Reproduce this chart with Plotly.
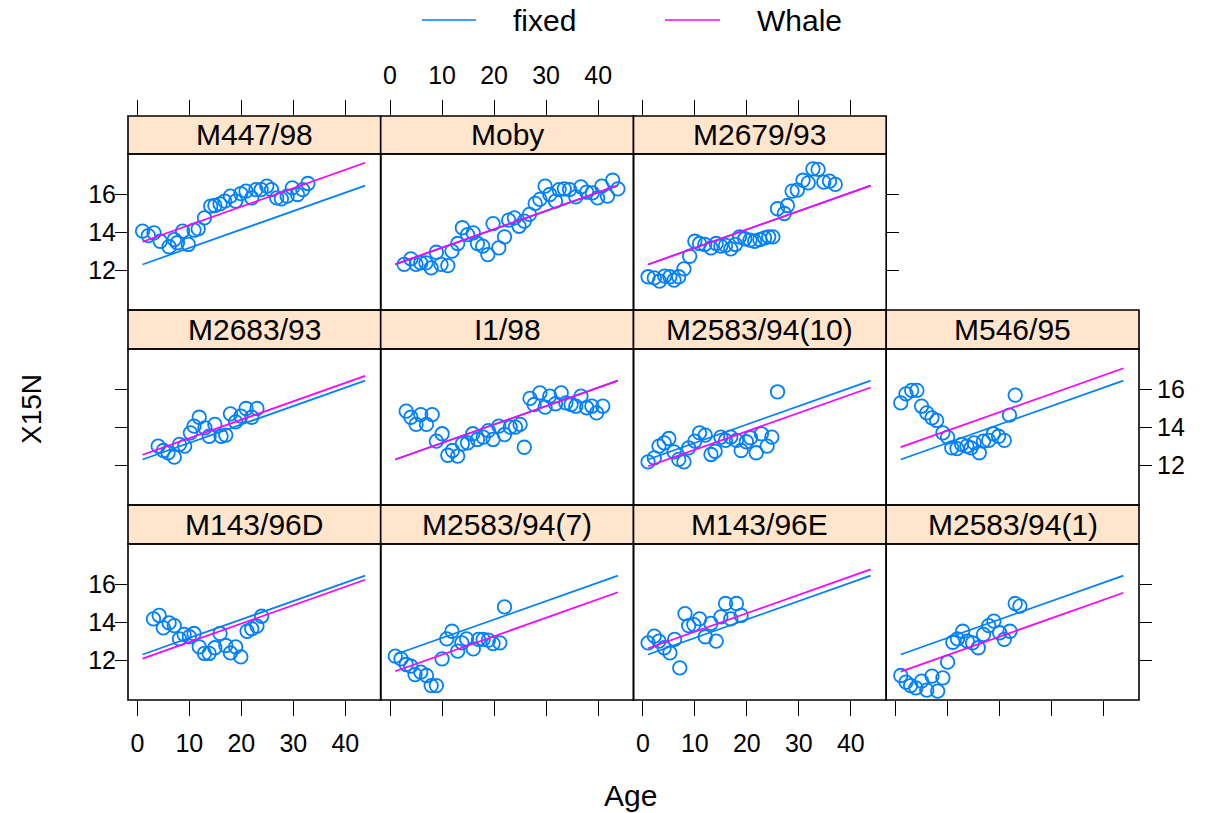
import plotly.graph_objects as go

W, H = 1206, 813
FONT = "Liberation Sans, Arial, Helvetica, sans-serif"
BLUE = "#0080ff"
MAGENTA = "#ff00ff"
STRIP = "#ffe5cc"

# ---- data: nitrogen isotope ratio (X15N) by tooth-layer age, per whale ----
whale_names = ["M447/98", "Moby", "M2679/93",
               "M2683/93", "I1/98", "M2583/94(10)", "M546/95",
               "M143/96D", "M2583/94(7)", "M143/96E", "M2583/94(1)"]

age_m447_98 = [1.0, 2.1, 3.2, 4.4, 6.1, 7.1, 7.7, 8.7, 9.8, 10.9, 11.7, 12.9, 14.1, 14.9, 15.9, 16.8,
               17.9, 18.9, 19.9, 20.9, 22.0, 22.8, 23.8, 24.9, 25.8, 26.8, 27.7, 28.8, 29.8, 30.8, 31.8, 32.8]
n15_m447_98 = [14.07, 13.84, 13.98, 13.54, 13.25, 13.63, 13.46, 14.07, 13.37, 14.12, 14.19, 14.77, 15.39,
               15.42, 15.51, 15.65, 15.91, 15.65, 16.05, 16.18, 15.82, 16.26, 16.26, 16.44, 16.26, 15.82,
               15.77, 15.91, 16.35, 16.0, 16.26, 16.58]

age_moby = [2.7, 4.0, 5.0, 5.9, 6.9, 7.9, 8.9, 9.8, 11.1, 11.9, 13.0, 13.9, 14.9, 16.0, 16.8, 17.8, 18.8,
            19.8, 20.9, 22.0, 22.8, 23.9, 24.8, 25.8, 26.8, 27.9, 28.8, 29.8, 30.7, 31.8, 32.5, 33.5, 34.5,
            35.7, 36.7, 37.8, 38.9, 39.9, 40.7, 41.8, 42.8, 43.8]
n15_moby = [12.32, 12.61, 12.32, 12.40, 12.40, 12.14, 12.96, 12.32, 12.26, 13.02, 13.42, 14.25, 13.89,
            13.98, 13.42, 13.28, 12.84, 14.47, 13.19, 13.77, 14.65, 14.77, 14.33, 14.60, 14.95, 15.53,
            15.74, 16.44, 16.0, 15.65, 16.26, 16.30, 16.26, 15.88, 16.40, 16.12, 16.09, 15.82, 16.44,
            15.91, 16.75, 16.30]

age_m2679_93 = [1.0, 2.2, 3.2, 4.2, 5.2, 6.0, 6.9, 7.9, 9.0, 10.0, 10.9, 11.9, 13.1, 14.1, 15.0, 15.9,
                16.9, 17.8, 18.6, 19.6, 20.6, 21.5, 22.5, 23.4, 24.2, 25.0, 25.9, 27.2, 27.8, 28.7, 29.7,
                30.8, 31.8, 32.7, 33.7, 34.8, 35.9, 37.0]
n15_m2679_93 = [11.67, 11.61, 11.44, 11.70, 11.67, 11.49, 11.67, 12.09, 12.75, 13.54, 13.42, 13.37, 13.19,
                13.42, 13.28, 13.32, 13.14, 13.37, 13.77, 13.67, 13.60, 13.54, 13.63, 13.72, 13.77, 13.77,
                15.25, 15.0, 15.42, 16.18, 16.23, 16.75, 16.61, 17.35, 17.32, 16.65, 16.70, 16.53]

age_m2683_93 = [4.0, 5.0, 5.9, 7.1, 8.1, 9.1, 10.2, 10.9, 11.9, 13.0, 13.8, 14.9, 16.1, 17.0, 17.9, 18.9,
                19.9, 20.9, 22.0, 23.0]
n15_m2683_93 = [13.02, 12.79, 12.67, 12.44, 13.11, 13.02, 13.72, 14.07, 14.54, 13.98, 13.54, 14.16, 13.54,
                13.60, 14.72, 14.30, 14.60, 15.0, 14.54, 15.0]

age_i1_98 = [3.1, 4.0, 5.0, 5.9, 7.0, 8.1, 8.9, 10.0, 11.1, 12.0, 13.0, 13.9, 14.9, 15.9, 16.8, 17.9, 18.9,
             19.8, 20.9, 22.0, 23.1, 24.1, 25.0, 25.8, 26.9, 27.7, 28.8, 29.8, 30.7, 31.8, 32.9, 33.8, 34.8,
             35.7, 36.7, 37.8, 38.8, 39.7, 40.9]
n15_i1_98 = [14.86, 14.54, 14.16, 14.68, 14.16, 14.68, 13.28, 13.67, 12.54, 12.79, 12.49, 13.14, 13.19,
             13.67, 13.37, 13.49, 13.84, 13.37, 14.07, 13.63, 14.02, 14.02, 14.16, 12.96, 15.53, 15.21,
             15.82, 15.07, 15.65, 15.25, 15.82, 15.30, 15.21, 15.12, 15.65, 15.04, 15.12, 14.77, 15.12]

age_m2583_94_10 = [1.0, 2.2, 3.1, 4.1, 5.0, 6.0, 6.9, 7.9, 8.8, 10.0, 10.9, 12.0, 13.1, 13.9, 15.0, 15.9,
                   16.9, 18.0, 18.9, 19.9, 20.7, 21.8, 22.8, 23.9, 24.8, 25.9]
n15_m2583_94_10 = [12.19, 12.40, 13.02, 13.19, 13.42, 12.72, 12.32, 12.19, 12.93, 13.28, 13.72, 13.60,
                   12.58, 12.75, 13.49, 13.32, 13.49, 13.32, 12.79, 13.25, 13.46, 12.67, 13.67, 13.02,
                   13.49, 15.88]

age_m546_95 = [1.0, 2.0, 3.1, 4.1, 5.0, 6.0, 7.0, 7.9, 9.1, 10.0, 10.8, 11.8, 12.7, 13.7, 14.5, 15.1, 16.1,
               16.9, 17.9, 18.8, 19.8, 20.9, 21.9, 23.0]
n15_m546_95 = [15.30, 15.77, 15.95, 15.95, 15.12, 14.77, 14.51, 14.37, 13.72, 13.49, 12.93, 12.89, 13.11,
               13.02, 12.93, 13.19, 12.67, 13.28, 13.32, 13.67, 13.54, 13.32, 14.65, 15.70]

age_m143_96d = [3.1, 4.2, 5.0, 6.1, 7.1, 8.1, 9.0, 10.0, 10.9, 11.9, 12.9, 13.8, 14.9, 15.9, 17.0, 17.9,
                18.9, 19.9, 21.1, 22.0, 23.0, 23.9]
n15_m143_96d = [14.19, 14.37, 13.72, 13.98, 13.84, 13.14, 13.37, 13.25, 13.42, 12.72, 12.37, 12.37, 12.67,
                13.42, 12.79, 12.40, 12.72, 12.19, 13.54, 13.67, 13.81, 14.33]

age_m2583_94_7 = [1.0, 2.1, 3.1, 4.0, 4.8, 5.9, 7.0, 7.9, 8.9, 10.0, 10.9, 11.9, 13.0, 13.8, 14.7, 16.0,
                  17.0, 17.9, 18.9, 19.8, 21.1, 22.0]
n15_m2583_94_7 = [12.23, 12.09, 11.79, 11.70, 11.26, 11.39, 11.21, 10.68, 10.68, 12.09, 13.14, 13.54, 12.49,
                  12.93, 13.14, 12.61, 13.11, 13.11, 13.07, 12.89, 12.93, 14.82]

age_m143_96e = [1.0, 2.2, 3.1, 4.1, 5.2, 6.1, 7.1, 8.1, 8.8, 9.8, 10.9, 12.0, 13.1, 14.1, 15.0, 15.9, 16.9,
                18.0, 18.9]
n15_m143_96e = [12.93, 13.28, 13.02, 12.67, 12.40, 13.11, 11.61, 14.47, 13.84, 13.89, 14.19, 13.25, 13.95,
                13.02, 14.30, 15.0, 14.19, 15.0, 14.37]

age_m2583_94_1 = [1.0, 2.0, 2.9, 3.9, 5.0, 6.0, 7.0, 8.1, 9.1, 10.0, 11.0, 11.9, 12.9, 13.8, 14.8, 15.9,
                  16.9, 17.9, 18.9, 20.0, 20.9, 22.0, 23.0, 23.9]
n15_m2583_94_1 = [11.21, 10.86, 10.68, 10.56, 10.91, 10.44, 11.18, 10.39, 11.09, 11.91, 12.96, 13.14, 13.54,
                  13.02, 12.93, 12.67, 13.37, 13.84, 14.07, 13.46, 13.11, 13.54, 15.0, 14.86]

# mixed model: common (fixed) line plus a per-whale random intercept
fixed_intercept = 12.22
fixed_slope = 0.097
whale_offsets = [1.2, 0.02, 0.0, 0.25, 0.0, -0.36, 0.65, -0.22, -0.88, 0.33, -0.9]

x_ticks = [0, 10, 20, 30, 40]
y_ticks = [12, 14, 16]

ages = [age_m447_98, age_moby, age_m2679_93, age_m2683_93, age_i1_98, age_m2583_94_10, age_m546_95,
        age_m143_96d, age_m2583_94_7, age_m143_96e, age_m2583_94_1]
n15s = [n15_m447_98, n15_moby, n15_m2679_93, n15_m2683_93, n15_i1_98, n15_m2583_94_10, n15_m546_95,
        n15_m143_96d, n15_m2583_94_7, n15_m143_96e, n15_m2583_94_1]

# ---- panel geometry (pixels) ----
grid = [(0, 0), (0, 1), (0, 2),
        (1, 0), (1, 1), (1, 2), (1, 3),
        (2, 0), (2, 1), (2, 2), (2, 3)]
col_x = [128, 380.7, 633.5, 886.2, 1139]
strip_top = [116, 310, 505]
panel_top = [154, 349, 544]
panel_bot = [310, 505, 700]
px_per_unit = 19.0
y16_below_top = 40.5
x_range = [-1.8, 46.8]

age_min = min(min(a) for a in ages)
age_max = max(max(a) for a in ages)
line_age = [age_min, age_max]

fig = go.Figure()
shapes = []
annotations = []
tick_font = dict(family=FONT, size=25, color="black")

for i, (name, (r, c)) in enumerate(zip(whale_names, grid)):
    k = "" if i == 0 else str(i + 1)
    xa, ya = "x" + k, "y" + k
    fixed_y = [fixed_intercept + fixed_slope * a for a in line_age]
    whale_y = [fixed_intercept + whale_offsets[i] + fixed_slope * a for a in line_age]
    fig.add_trace(go.Scatter(x=ages[i], y=n15s[i], mode="markers", xaxis=xa, yaxis=ya,
                             marker=dict(symbol="circle-open", size=13.5, color=BLUE,
                                         line=dict(width=1.8, color=BLUE)),
                             showlegend=False, cliponaxis=True))
    fig.add_trace(go.Scatter(x=line_age, y=fixed_y, mode="lines", xaxis=xa, yaxis=ya,
                             line=dict(color=BLUE, width=1.7), showlegend=False))
    fig.add_trace(go.Scatter(x=line_age, y=whale_y, mode="lines", xaxis=xa, yaxis=ya,
                             line=dict(color=MAGENTA, width=1.7), showlegend=False))

    x0, x1 = col_x[c], col_x[c + 1]
    st, pt, pb = strip_top[r], panel_top[r], panel_bot[r]
    y_lo = 16 - (pb - pt - y16_below_top) / px_per_unit
    y_hi = y_lo + (pb - st) / px_per_unit

    # x axis: top ticks on first row, bottom ticks on last row
    xax = dict(domain=[x0 / W, x1 / W], range=x_range, anchor=ya, showgrid=False, zeroline=False,
               showline=False, tickvals=x_ticks, tickfont=tick_font, ticklen=15, tickwidth=1.4,
               tickcolor="black", ticklabelstandoff=6)
    if r == 0:
        xax.update(side="top", ticks="outside", showticklabels=(c == 1))
    elif r == 2:
        xax.update(side="bottom", ticks="outside", showticklabels=(c in (0, 2)))
    else:
        xax.update(ticks="", showticklabels=False)

    yax = dict(domain=[1 - pb / H, 1 - st / H], range=[y_lo, y_hi], anchor=xa, showgrid=False,
               zeroline=False, showline=False, tickvals=y_ticks, tickfont=tick_font, ticklen=12,
               tickwidth=1.4, tickcolor="black")
    if c == 0:
        yax.update(side="left", ticks="outside", showticklabels=(r != 1), ticklabelstandoff=-6)
    elif c == 3 or (r == 0 and c == 2):
        yax.update(side="right", ticks="outside", showticklabels=(r == 1), ticklabelstandoff=0)
    else:
        yax.update(ticks="", showticklabels=False)

    fig.layout["xaxis" + k] = xax
    fig.layout["yaxis" + k] = yax

    # strip with whale name, then panel frame
    shapes.append(dict(type="rect", xref="paper", yref="paper", x0=x0 / W, x1=x1 / W,
                       y0=1 - pt / H, y1=1 - st / H, fillcolor=STRIP,
                       line=dict(color="black", width=1.6), layer="below"))
    shapes.append(dict(type="rect", xref="paper", yref="paper", x0=x0 / W, x1=x1 / W,
                       y0=1 - pb / H, y1=1 - pt / H, line=dict(color="black", width=1.6),
                       layer="above"))
    annotations.append(dict(text=name, xref="paper", yref="paper", x=(x0 + x1) / 2 / W,
                            y=1 - (st + pt) / 2 / H, showarrow=False, xanchor="center",
                            yanchor="middle", font=dict(family=FONT, size=30, color="black")))

# key above the panels
key_y = 1 - 20 / H
for (lx0, lx1, tx, label, col) in [(422, 476, 511, "fixed", BLUE), (665, 720, 755, "Whale", MAGENTA)]:
    shapes.append(dict(type="line", xref="paper", yref="paper", x0=lx0 / W, x1=lx1 / W,
                       y0=key_y, y1=key_y, line=dict(color=col, width=1.7)))
    annotations.append(dict(text=label, xref="paper", yref="paper", x=tx / W, y=key_y,
                            showarrow=False, xanchor="left", yanchor="middle",
                            font=dict(family=FONT, size=30, color="black")))

# axis titles
annotations.append(dict(text="Age", xref="paper", yref="paper", x=630 / W, y=1 - 795 / H,
                        showarrow=False, xanchor="center", yanchor="middle",
                        font=dict(family=FONT, size=30, color="black")))
annotations.append(dict(text="X15N", xref="paper", yref="paper", x=32 / W, y=1 - 409 / H,
                        showarrow=False, xanchor="center", yanchor="middle", textangle=-90,
                        font=dict(family=FONT, size=28, color="black")))

fig.update_layout(width=W, height=H, margin=dict(l=0, r=0, t=0, b=0),
                  paper_bgcolor="white", plot_bgcolor="rgba(0,0,0,0)",
                  shapes=shapes, annotations=annotations, showlegend=False)

fig.write_html("out.html")
